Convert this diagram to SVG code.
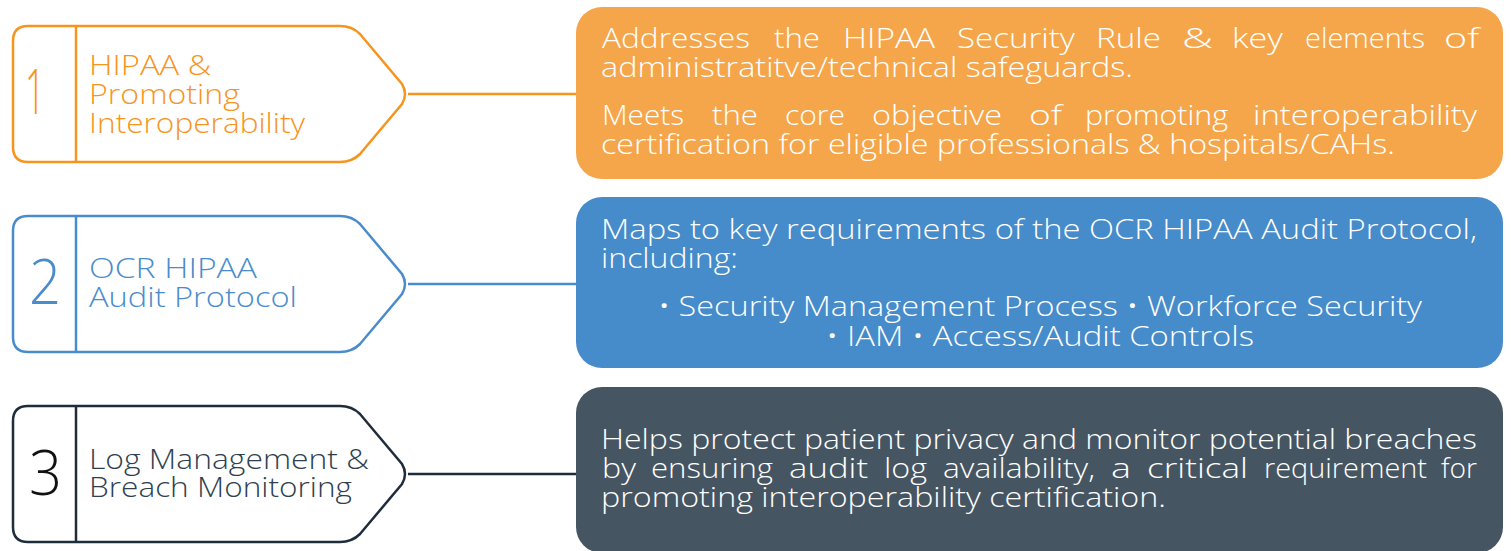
<svg xmlns="http://www.w3.org/2000/svg" width="1511" height="551" viewBox="0 0 1511 551">
<style>
.tag{fill:#fff;stroke-width:2.5}
.num{font-family:"Open Sans","Liberation Sans",sans-serif;font-weight:300;font-size:62px}
.lbl{font-family:"Open Sans","Liberation Sans",sans-serif;font-weight:300;font-size:27px}
.txt{font-family:"Open Sans","Liberation Sans",sans-serif;font-weight:300;font-size:27px;fill:#fff}
.o{stroke:#F7941D}.b{stroke:#4A8CCB}.d{stroke:#1E2D3B}
</style>
<defs>
<path id="tagshape" d="M28,0 H340 Q352,0 360,8 L402,58 Q408,68 402,78 L360,128 Q352,136 340,136 H28 Q13,136 13,121 V15 Q13,0 28,0 Z"/>
</defs>
<g id="connectors" fill="none" stroke-width="2.5">
<line class="o" x1="408" y1="94" x2="577" y2="94"/>
<line class="b" x1="408" y1="284" x2="577" y2="284"/>
<line class="d" x1="408" y1="474" x2="577" y2="474"/>
</g>
<g id="node1">
<use href="#tagshape" class="tag o" y="26"/>
<line class="o" x1="76" y1="26" x2="76" y2="162" stroke-width="2.5"/>
<text class="num" x="25" y="114" fill="#F7941D" textLength="20" lengthAdjust="spacingAndGlyphs">1</text>
<text class="lbl" fill="#F7941D" x="89" y="75" textLength="122" lengthAdjust="spacingAndGlyphs">HIPAA &amp;</text>
<text class="lbl" fill="#F7941D" x="89" y="104" textLength="151" lengthAdjust="spacingAndGlyphs">Promoting</text>
<text class="lbl" fill="#F7941D" x="89" y="133" textLength="216" lengthAdjust="spacingAndGlyphs">Interoperability</text>
</g>
<g id="node2">
<use href="#tagshape" class="tag b" y="216"/>
<line class="b" x1="76" y1="216" x2="76" y2="352" stroke-width="2.5"/>
<text class="num" x="29" y="304" fill="#4A8CCB" textLength="32" lengthAdjust="spacingAndGlyphs">2</text>
<text class="lbl" fill="#4A8CCB" x="89" y="278" textLength="168" lengthAdjust="spacingAndGlyphs">OCR HIPAA</text>
<text class="lbl" fill="#4A8CCB" x="89" y="307" textLength="208" lengthAdjust="spacingAndGlyphs">Audit Protocol</text>
</g>
<g id="node3">
<use href="#tagshape" class="tag d" y="406"/>
<line class="d" x1="76" y1="406" x2="76" y2="542" stroke-width="2.5"/>
<text class="num" x="29" y="495" fill="#111" textLength="33" lengthAdjust="spacingAndGlyphs">3</text>
<text class="lbl" fill="#2E3F4F" x="89" y="469" textLength="280" lengthAdjust="spacingAndGlyphs">Log Management &amp;</text>
<text class="lbl" fill="#2E3F4F" x="89" y="497" textLength="263" lengthAdjust="spacingAndGlyphs">Breach Monitoring</text>
</g>
<g id="box1">
<rect x="576" y="7" width="927" height="172" rx="26" fill="#F5A64B"/>
<text class="txt" y="48"><tspan x="602" textLength="148" lengthAdjust="spacingAndGlyphs">Addresses</tspan> <tspan x="774" textLength="46" lengthAdjust="spacingAndGlyphs">the</tspan> <tspan x="843" textLength="92" lengthAdjust="spacingAndGlyphs">HIPAA</tspan> <tspan x="957" textLength="118" lengthAdjust="spacingAndGlyphs">Security</tspan> <tspan x="1096" textLength="65" lengthAdjust="spacingAndGlyphs">Rule</tspan> <tspan x="1182" textLength="31" lengthAdjust="spacingAndGlyphs">&amp;</tspan> <tspan x="1232" textLength="51" lengthAdjust="spacingAndGlyphs">key</tspan> <tspan x="1305" textLength="120" lengthAdjust="spacingAndGlyphs">elements</tspan> <tspan x="1444" textLength="35" lengthAdjust="spacingAndGlyphs">of</tspan></text>
<text class="txt" x="601" y="77" textLength="532" lengthAdjust="spacingAndGlyphs">administratitve/technical safeguards.</text>
<text class="txt" y="125"><tspan x="602" textLength="82" lengthAdjust="spacingAndGlyphs">Meets</tspan> <tspan x="712" textLength="46" lengthAdjust="spacingAndGlyphs">the</tspan> <tspan x="785" textLength="60" lengthAdjust="spacingAndGlyphs">core</tspan> <tspan x="872" textLength="130" lengthAdjust="spacingAndGlyphs">objective</tspan> <tspan x="1029" textLength="33" lengthAdjust="spacingAndGlyphs">of</tspan> <tspan x="1085" textLength="143" lengthAdjust="spacingAndGlyphs">promoting</tspan> <tspan x="1253" textLength="224" lengthAdjust="spacingAndGlyphs">interoperability</tspan></text>
<text class="txt" x="601" y="154" textLength="794" lengthAdjust="spacingAndGlyphs">certification for eligible professionals &amp; hospitals/CAHs.</text>
</g>
<g id="box2">
<rect x="576" y="197" width="927" height="171" rx="26" fill="#468BCA"/>
<text class="txt" x="601" y="239" textLength="876" lengthAdjust="spacingAndGlyphs">Maps to key requirements of the OCR HIPAA Audit Protocol,</text>
<text class="txt" x="601" y="268" textLength="137" lengthAdjust="spacingAndGlyphs">including:</text>
<text class="txt" x="658" y="316" textLength="764" lengthAdjust="spacingAndGlyphs">• Security Management Process • Workforce Security</text>
<text class="txt" x="826" y="346" textLength="428" lengthAdjust="spacingAndGlyphs">• IAM • Access/Audit Controls</text>
</g>
<g id="box3">
<rect x="576" y="387" width="927" height="166" rx="26" fill="#465562"/>
<text class="txt" x="601" y="449" textLength="876" lengthAdjust="spacingAndGlyphs">Helps protect patient privacy and monitor potential breaches</text>
<text class="txt" y="478"><tspan x="602" textLength="34" lengthAdjust="spacingAndGlyphs">by</tspan> <tspan x="651" textLength="122" lengthAdjust="spacingAndGlyphs">ensuring</tspan> <tspan x="789" textLength="79" lengthAdjust="spacingAndGlyphs">audit</tspan> <tspan x="884" textLength="43" lengthAdjust="spacingAndGlyphs">log</tspan> <tspan x="943" textLength="152" lengthAdjust="spacingAndGlyphs">availability,</tspan> <tspan x="1111" textLength="20" lengthAdjust="spacingAndGlyphs">a</tspan> <tspan x="1147" textLength="101" lengthAdjust="spacingAndGlyphs">critical</tspan> <tspan x="1264" textLength="163" lengthAdjust="spacingAndGlyphs">requirement</tspan> <tspan x="1441" textLength="36" lengthAdjust="spacingAndGlyphs">for</tspan></text>
<text class="txt" x="601" y="507" textLength="565" lengthAdjust="spacingAndGlyphs">promoting interoperability certification.</text>
</g>
</svg>
